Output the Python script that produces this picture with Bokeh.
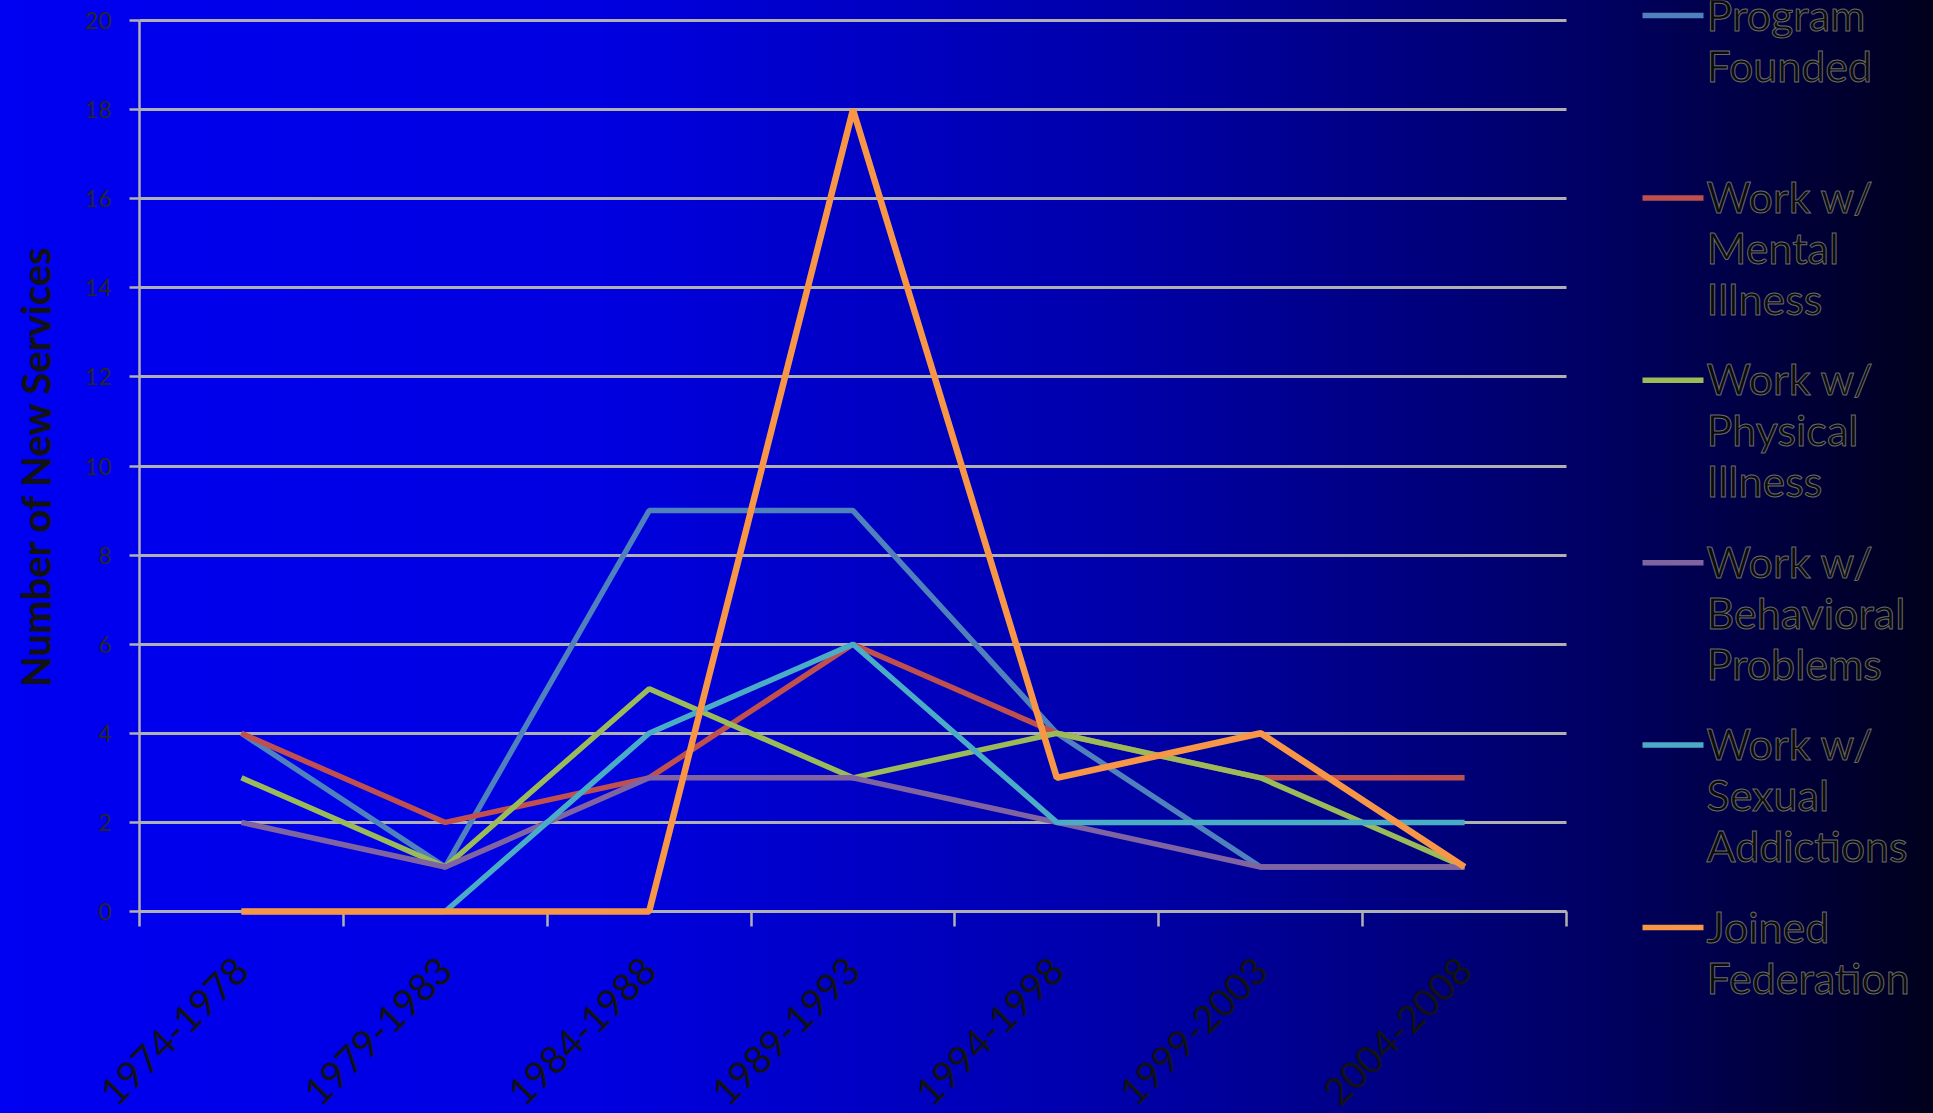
from math import pi

from bokeh.plotting import figure
from bokeh.models import (Range1d, LinearAxis, FixedTicker, Label, BoxAnnotation, Grid)
from bokeh.embed import file_html
from bokeh.resources import INLINE

# ---------------- data ----------------
periods = ["1974-1978", "1979-1983", "1984-1988", "1989-1993",
           "1994-1998", "1999-2003", "2004-2008"]

program_founded     = [4, 1, 9, 9, 4, 1, 1]
mental_illness      = [4, 2, 3, 6, 4, 3, 3]
physical_illness    = [3, 1, 5, 3, 4, 3, 1]
behavioral_problems = [2, 1, 3, 3, 2, 1, 1]
sexual_addictions   = [0, 0, 4, 6, 2, 2, 2]
joined_federation   = [0, 0, 0, 18, 3, 4, 1]

series_labels = ["Program\nFounded",
                 "Work w/\nMental\nIllness",
                 "Work w/\nPhysical\nIllness",
                 "Work w/\nBehavioral\nProblems",
                 "Work w/\nSexual\nAddictions",
                 "Joined\nFederation"]
series_values = [program_founded, mental_illness, physical_illness,
                 behavioral_problems, sexual_addictions, joined_federation]
series_colors = ["#4F81BD", "#C0504D", "#9BBB59", "#8064A2", "#4BACC6", "#F79646"]
series_widths = [5.5, 5.5, 5.5, 5.5, 5.5, 6.5]

y_ticks = list(range(0, 21, 2))
y_max = 20
y_title = "Number of New Services"

# ---------------- layout constants (pixels) ----------------
W, H = 1933, 1113
PLOT_L = 139           # pixel column of the y axis
PLOT_R = 1566          # right edge of the category span
PLOT_T = 20            # pixel row of y = y_max
AXIS_Y = 911           # pixel row of y = 0

n = len(periods)
x_pos = [i + 0.5 for i in range(n)]          # category centres
x_bounds = list(range(n + 1))                 # category boundaries
px_per_cat = (PLOT_R - PLOT_L) / n
x_start = -PLOT_L / px_per_cat
x_end = (W - PLOT_L) / px_per_cat
px_per_unit = (AXIS_Y - PLOT_T) / y_max
y_start = -(H - AXIS_Y) / px_per_unit
y_end = y_max + PLOT_T / px_per_unit

GRID = "#b0b0b0"
TEXT = "#121212"
FONT = "Lato"


def set_if(obj, name, val):
    if name in obj.properties():
        setattr(obj, name, val)


def up(row):
    """screen units are measured up from the bottom of the (full-canvas) frame"""
    return H - row


p = figure(width=W, height=H,
           x_range=Range1d(x_start, x_end), y_range=Range1d(y_start, y_end),
           x_axis_location=None, y_axis_location=None,
           output_backend="svg", toolbar_location=None,
           min_border_left=0, min_border_right=0,
           min_border_top=0, min_border_bottom=0)

p.background_fill_alpha = 0
p.border_fill_alpha = 0
p.outline_line_color = None
p.styles = {"background": "linear-gradient(to right, rgb(0,0,242) 0%, rgb(0,0,224) 31%, "
                          "rgb(0,0,172) 57%, rgb(0,0,98) 83%, rgb(0,0,28) 100%)"}

# ---- y axis at x = 0
ya = LinearAxis(ticker=FixedTicker(ticks=y_ticks), bounds=(0, y_max), fixed_location=0,
                axis_line_color=GRID, axis_line_width=2.5,
                major_tick_line_color=GRID, major_tick_line_width=2.5,
                major_tick_out=10, major_tick_in=0,
                minor_tick_line_color=None,
                major_label_text_font=FONT, major_label_text_font_size="23px",
                major_label_text_color="#262626", major_label_standoff=18,
                level="underlay")
p.add_layout(ya, "left")

# y title, centred on the plotted span
p.add_layout(Label(x=35, y=up((PLOT_T + AXIS_Y) / 2), x_units="screen", y_units="screen",
                   text=y_title, angle=pi / 2, text_align="center", text_baseline="middle",
                   text_font=FONT, text_font_size="40px", text_font_style="bold",
                   text_color=TEXT))

# ---- horizontal grid limited to the category span
p.xgrid.visible = False
if "cross_bounds" in Grid.properties():
    p.ygrid.ticker = FixedTicker(ticks=y_ticks)
    p.ygrid.cross_bounds = (0, n)
    p.ygrid.grid_line_color = GRID
    p.ygrid.grid_line_width = 3
else:
    p.ygrid.visible = False
    p.segment(x0=[x_bounds[0]] * len(y_ticks), x1=[x_bounds[-1]] * len(y_ticks),
              y0=y_ticks, y1=y_ticks, line_color=GRID, line_width=3)

# ---- x axis at y = 0: labels at category centres, tick marks at category boundaries
xa = LinearAxis(ticker=FixedTicker(ticks=x_pos, minor_ticks=x_bounds),
                bounds=(0, n), fixed_location=0,
                major_label_overrides={c: lab for c, lab in zip(x_pos, periods)},
                major_tick_out=0, major_tick_in=0, major_tick_line_color=None,
                minor_tick_out=15, minor_tick_in=0,
                minor_tick_line_color=GRID, minor_tick_line_width=2.5,
                axis_line_color=GRID, axis_line_width=2.5,
                major_label_orientation=pi / 4,
                major_label_text_font=FONT,
                major_label_text_font_size="38px",
                major_label_text_color=TEXT,
                major_label_standoff=37,
                level="underlay")
p.add_layout(xa, "below")

# ---- series
for vals, col, lw in zip(series_values, series_colors, series_widths):
    p.line(x=x_pos, y=vals, line_color=col, line_width=lw)

# ---- legend (multi-line labels)
swatch_left = 1642
swatch_len = 61
text_left = 1706
first_row = 15
step = 182.4
for i, (lab, col) in enumerate(zip(series_labels, series_colors)):
    yc = up(first_row + i * step)
    p.add_layout(BoxAnnotation(left=swatch_left, right=swatch_left + swatch_len,
                               bottom=yc - 2.75, top=yc + 2.75,
                               left_units="screen", right_units="screen",
                               top_units="screen", bottom_units="screen",
                               fill_color=col, fill_alpha=1, line_alpha=0))
    lbl = Label(x=text_left, y=yc + 27, x_units="screen", y_units="screen",
                text=lab, text_font=FONT, text_font_size="43px",
                text_color="#0a0a0a", text_baseline="top", text_align="left",
                text_line_height=1.0)
    set_if(lbl, "text_outline_color", "#6a6a6a")
    p.add_layout(lbl)

open("out.html", "w").write(file_html(p, INLINE))
